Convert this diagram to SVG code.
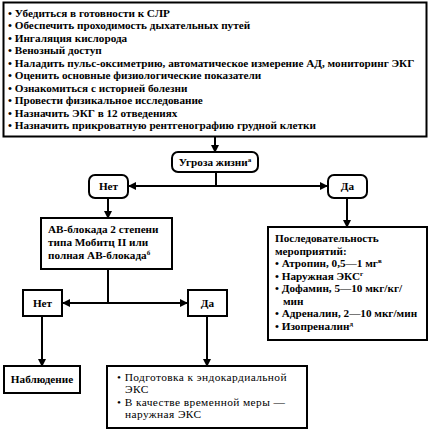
<svg xmlns="http://www.w3.org/2000/svg" width="430" height="431" viewBox="0 0 430 431">
<defs>
<marker id="ah" markerWidth="8" markerHeight="8" refX="7" refY="4" orient="auto" markerUnits="userSpaceOnUse">
<path d="M0,0 L8,4 L0,8 z" fill="#000"/>
</marker>
<style>
.box{fill:#fff;stroke:#000;stroke-width:2}
text{font-family:"Liberation Serif","Times New Roman",serif;font-size:11.2px;font-weight:bold;fill:#000}
.c{text-anchor:middle}
.r{font-weight:normal;font-size:11.4px;letter-spacing:0.4px}
.ln{stroke:#000;stroke-width:2;fill:none}
.arr{stroke:#000;stroke-width:2;fill:none;marker-end:url(#ah)}
.sup{font-size:7px}
</style>
</defs>
<rect width="430" height="431" fill="#fff"/>
<g id="connectors">
<line class="arr" x1="215" y1="137" x2="215" y2="152"/>
<line class="ln" x1="216" y1="172" x2="216" y2="186"/>
<line class="arr" x1="216" y1="186" x2="129" y2="186"/>
<line class="arr" x1="216" y1="186" x2="327" y2="186"/>
<line class="arr" x1="108" y1="198" x2="108" y2="218"/>
<line class="arr" x1="347" y1="198" x2="347" y2="227"/>
<line class="ln" x1="108" y1="269" x2="108" y2="303"/>
<line class="arr" x1="108" y1="303" x2="63" y2="303"/>
<line class="arr" x1="108" y1="303" x2="187" y2="303"/>
<line class="arr" x1="42" y1="316" x2="42" y2="366"/>
<line class="arr" x1="207" y1="316" x2="207" y2="366"/>
</g>
<g id="start">
<rect class="box" x="3.5" y="2.5" width="423" height="134"/>
<text x="8" y="16.5">• Убедиться в готовности к СЛР</text>
<text x="8" y="29">• Обеспечить проходимость дыхательных путей</text>
<text x="8" y="41.5">• Ингаляция кислорода</text>
<text x="8" y="54">• Венозный доступ</text>
<text x="8" y="66.5">• Наладить пульс-оксиметрию, автоматическое измерение АД, мониторинг ЭКГ</text>
<text x="8" y="79">• Оценить основные физиологические показатели</text>
<text x="8" y="91.5">• Ознакомиться с историей болезни</text>
<text x="8" y="104">• Провести физикальное исследование</text>
<text x="8" y="116.5">• Назначить ЭКГ в 12 отведениях</text>
<text x="8" y="129">• Назначить прикроватную рентгенографию грудной клетки</text>
</g>
<g id="threat">
<rect class="box" x="172" y="152" width="86" height="20" rx="6"/>
<text class="c" x="215" y="166">Угроза жизни<tspan class="sup" dy="-4">а</tspan></text>
</g>
<g id="no1">
<rect class="box" x="89" y="175" width="39" height="23" rx="6"/>
<text class="c" x="108.5" y="190">Нет</text>
</g>
<g id="yes1">
<rect class="box" x="328" y="175" width="39" height="23" rx="6"/>
<text class="c" x="347.5" y="190">Да</text>
</g>
<g id="avblock">
<rect class="box" x="41" y="218" width="131" height="51"/>
<text x="48" y="233">АВ-блокада 2 степени</text>
<text x="48" y="246">типа Мобитц II или</text>
<text x="48" y="259">полная АВ-блокада<tspan class="sup" dy="-4">б</tspan></text>
</g>
<g id="sequence">
<rect class="box" x="268" y="227" width="159" height="113"/>
<text x="275" y="242">Последовательность</text>
<text x="275" y="254.5">мероприятий:</text>
<text x="275" y="267">• Атропин, 0,5—1 мг<tspan class="sup" dy="-4">в</tspan></text>
<text x="275" y="279.5">• Наружная ЭКС<tspan class="sup" dy="-4">г</tspan></text>
<text x="275" y="292">• Дофамин, 5—10 мкг/кг/</text>
<text x="283" y="304.5">мин</text>
<text x="275" y="317">• Адреналин, 2—10 мкг/мин</text>
<text x="275" y="329.5">• Изопреналин<tspan class="sup" dy="-4">д</tspan></text>
</g>
<g id="no2">
<rect class="box" x="23" y="290" width="39" height="26"/>
<text class="c" x="42.5" y="307">Нет</text>
</g>
<g id="yes2">
<rect class="box" x="188" y="290" width="39" height="26"/>
<text class="c" x="207.5" y="307">Да</text>
</g>
<g id="observe">
<rect class="box" x="4" y="366" width="76" height="27"/>
<text class="c" x="42" y="383">Наблюдение</text>
</g>
<g id="pacing">
<rect class="box" x="107" y="366" width="200" height="62"/>
<text class="r" x="117" y="380.5">• Подготовка к эндокардиальной</text>
<text class="r" x="125" y="393">ЭКС</text>
<text class="r" x="117" y="405.5">• В качестве временной меры —</text>
<text class="r" x="125" y="418">наружная ЭКС</text>
</g>
</svg>
